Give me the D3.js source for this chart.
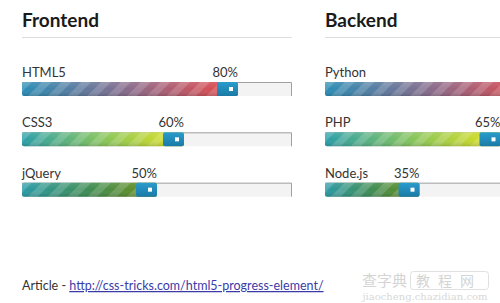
<!DOCTYPE html>
<html>
<head>
<meta charset="utf-8">
<script src="https://cdnjs.cloudflare.com/ajax/libs/d3/7.8.5/d3.min.js"></script>
<style>
  html, body { margin: 0; padding: 0; background: #fff; overflow: hidden; }
  svg { display: block; }
</style>
</head>
<body>
<svg id="chart" width="500" height="303"></svg>
<script>
// skill data
const groupTitles = ['Frontend', 'Backend']
const frontendSkills = ['HTML5', 'CSS3', 'jQuery']
const frontendValues = [80, 60, 50]
const backendSkills = ['Python', 'PHP', 'Node.js']
const backendValues = [80, 65, 35]
// gradient per row (start, middle, end)
const rowColors = [
  ['#2a8db5', '#8a6a8a', '#ec4545'],
  ['#2a9ea8', '#86c45a', '#e4e21a'],
  ['#2a9aa6', '#3f8c52', '#6f8e14'],
]
const articleLabel = 'Article - '
const articleUrl = 'http://css-tricks.com/html5-progress-element/'

const svg = d3.select('#chart')
const defs = svg.append('defs')

const barWidth = 270
const barHeight = 14
const x = d3.scaleLinear().domain([0, 100]).range([0, barWidth])
const y = d3.scaleBand().domain(d3.range(3)).range([57, 208]).paddingInner(0)
const groupX = d3.scaleBand().domain(d3.range(2)).range([22, 628]).paddingInner(0)

// stripes
const stripe = defs.append('pattern')
  .attr('id', 'stripes')
  .attr('patternUnits', 'userSpaceOnUse')
  .attr('width', 14).attr('height', 14)
  .attr('patternTransform', 'rotate(45)')
stripe.append('rect')
  .attr('width', 7).attr('height', 14)
  .attr('fill', '#fff').attr('opacity', 0.17)

// gloss
const gloss = defs.append('linearGradient')
  .attr('id', 'gloss').attr('x1', 0).attr('y1', 0).attr('x2', 0).attr('y2', 1)
gloss.append('stop').attr('offset', 0).attr('stop-color', '#fff').attr('stop-opacity', 0.12)
gloss.append('stop').attr('offset', 0.5).attr('stop-color', '#fff').attr('stop-opacity', 0)
gloss.append('stop').attr('offset', 1).attr('stop-color', '#000').attr('stop-opacity', 0.15)

const handleGrad = defs.append('linearGradient')
  .attr('id', 'handle').attr('x1', 0).attr('y1', 0).attr('x2', 0).attr('y2', 1)
handleGrad.append('stop').attr('offset', 0).attr('stop-color', '#2a9ccc')
handleGrad.append('stop').attr('offset', 1).attr('stop-color', '#1a7aa6')

rowColors.forEach((c, i) => {
  const g = defs.append('linearGradient')
    .attr('id', `fill${i}`).attr('x1', 0).attr('y1', 0).attr('x2', 1).attr('y2', 0)
  g.selectAll('stop').data(c).join('stop')
    .attr('offset', (d, j) => j / (c.length - 1))
    .attr('stop-color', d => d)
})

const groups = [
  { skills: frontendSkills, values: frontendValues },
  { skills: backendSkills, values: backendValues },
]

groups.forEach((grp, gi) => {
  const g = svg.append('g').attr('transform', `translate(${groupX(gi)},0)`)

  g.append('text')
    .attr('x', 0).attr('y', 27)
    .attr('font-family', 'Lato, sans-serif')
    .attr('font-weight', 'bold')
    .attr('font-size', 19)
    .attr('fill', '#1a1a1a')
    .text(groupTitles[gi])

  g.append('line')
    .attr('x1', 0).attr('x2', barWidth)
    .attr('y1', 37.5).attr('y2', 37.5)
    .attr('stroke', '#ddd')

  grp.skills.forEach((skill, i) => {
    const value = grp.values[i]
    const top = y(i) + 25
    const w = x(value)
    const row = g.append('g').attr('transform', `translate(0,${top})`)

    // track
    row.append('rect')
      .attr('width', barWidth).attr('height', barHeight)
      .attr('rx', 2)
      .attr('fill', '#f3f3f3')
    row.append('path')
      .attr('d', `M0,0.5 H${barWidth - 0.5} V${barHeight}`)
      .attr('fill', 'none')
      .attr('stroke', '#a0a0a0')

    // filled part
    row.append('rect')
      .attr('width', w).attr('height', barHeight).attr('rx', 2)
      .attr('fill', `url(#fill${i})`)
    row.append('rect')
      .attr('width', w).attr('height', barHeight).attr('rx', 2)
      .attr('fill', 'url(#stripes)')
    row.append('rect')
      .attr('width', w).attr('height', barHeight).attr('rx', 2)
      .attr('fill', 'url(#gloss)')

    // handle
    row.append('rect')
      .attr('x', w - 21).attr('width', 21).attr('height', barHeight).attr('rx', 2)
      .attr('fill', 'url(#handle)')
    row.append('rect')
      .attr('x', w - 9).attr('y', 5).attr('width', 4).attr('height', 4)
      .attr('fill', '#fff')

    row.append('text')
      .attr('x', 0).attr('y', -5)
      .attr('font-family', 'Lato, sans-serif')
      .attr('font-size', 13)
      .attr('fill', '#333')
      .text(skill)

    row.append('text')
      .attr('x', w).attr('y', -5)
      .attr('text-anchor', 'end')
      .attr('font-family', 'Lato, sans-serif')
      .attr('font-size', 13)
      .attr('fill', '#333')
      .text(`${value}%`)
  })
})

// footer
const foot = svg.append('text')
  .attr('x', 22).attr('y', 290)
  .attr('font-family', 'Lato, sans-serif')
  .attr('font-size', 12.5)
  .attr('fill', '#333')
foot.append('tspan').text(articleLabel)
foot.append('tspan')
  .attr('fill', '#3b3ba8')
  .attr('text-decoration', 'underline')
  .text(articleUrl)

// watermark
svg.append('text')
  .attr('x', 362).attr('y', 286)
  .attr('font-family', '"Noto Sans CJK SC", sans-serif')
  .attr('font-size', 15)
  .attr('fill', '#d4d4d4')
  .text('查字典')
svg.append('rect')
  .attr('x', 410.5).attr('y', 271.5).attr('width', 78).attr('height', 18).attr('rx', 3)
  .attr('fill', 'none').attr('stroke', '#e0e0e0')
svg.append('text')
  .attr('x', 449).attr('y', 286).attr('text-anchor', 'middle')
  .attr('font-family', '"Noto Sans CJK SC", sans-serif')
  .attr('font-size', 14)
  .attr('letter-spacing', 8)
  .attr('fill', '#d4d4d4')
  .text('教程网')
svg.append('text')
  .attr('x', 425).attr('y', 300).attr('text-anchor', 'middle')
  .attr('font-family', '"DejaVu Serif", serif')
  .attr('font-size', 10)
  .attr('fill', '#d8d8d8')
  .text('jiaocheng.chazidian.com')
</script>
</body>
</html>
